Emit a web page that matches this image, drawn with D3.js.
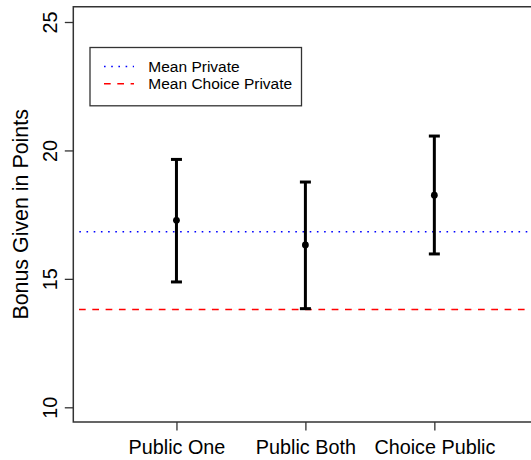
<!DOCTYPE html>
<html>
<head>
<meta charset="utf-8">
<script src="https://cdn.jsdelivr.net/npm/d3@7/dist/d3.min.js"></script>
<style>
html,body{margin:0;padding:0;background:#fff;}
svg{display:block;}
text{font-family:"Liberation Sans", Arial, Helvetica, sans-serif;}
</style>
</head>
<body>
<svg id="chart" width="531" height="460"></svg>
<script>
const categories = ["Public One", "Public Both", "Choice Public"];
const means = [17.28, 16.32, 18.26];
const lower = [14.88, 13.84, 15.97];
const upper = [19.65, 18.77, 20.56];
const yTicks = [10, 15, 20, 25];
const meanPrivate = 16.83;
const meanChoicePrivate = 13.81;
const legendLabels = ["Mean Private", "Mean Choice Private"];

(function(){
const svg = d3.select("#chart");
const pL = 73.3, pR = 537.5, pT = 6.7, pB = 422;

const x = d3.scaleLinear().domain([0.2, 3.8]).range([pL, pR]);
const y = d3.scaleLinear().domain([10, 25]).range([407.3, 22]);

const dotDash = "1.6,5.6", dashDash = "6.7,6.6";

// reference lines
svg.append("line")
  .attr("x1", pL).attr("x2", pR)
  .attr("y1", y(meanPrivate)).attr("y2", y(meanPrivate))
  .attr("stroke", "#0000ff").attr("stroke-width", 1.5)
  .attr("stroke-dasharray", dotDash).attr("stroke-dashoffset", 1.2);
svg.append("line")
  .attr("x1", pL).attr("x2", pR)
  .attr("y1", y(meanChoicePrivate)).attr("y2", y(meanChoicePrivate))
  .attr("stroke", "#ff0000").attr("stroke-width", 1.5)
  .attr("stroke-dasharray", dashDash).attr("stroke-dashoffset", 7.6);

// error bars
const g = svg.append("g");
categories.forEach((c, i) => {
  const cx = x(i + 1);
  g.append("line").attr("x1", cx).attr("x2", cx)
    .attr("y1", y(lower[i])).attr("y2", y(upper[i]))
    .attr("stroke", "#000").attr("stroke-width", 3);
  [lower[i], upper[i]].forEach(v => {
    g.append("line").attr("x1", cx - 5.5).attr("x2", cx + 5.5)
      .attr("y1", y(v)).attr("y2", y(v))
      .attr("stroke", "#000").attr("stroke-width", 3);
  });
  g.append("circle").attr("cx", cx).attr("cy", y(means[i])).attr("r", 3.4).attr("fill", "#000");
});

// box (right side runs past the image edge)
svg.append("path")
  .attr("d", `M${pR},${pT}H${pL}V${pB}H${pR}`)
  .attr("fill", "none").attr("stroke", "#333").attr("stroke-width", 1.5);

// y axis
const yAxis = d3.axisLeft(y).tickValues(yTicks).tickSize(8.5).tickPadding(6).tickFormat(d3.format("d"));
const ya = svg.append("g").attr("transform", `translate(${pL},0)`).call(yAxis);
ya.select(".domain").remove();
ya.selectAll(".tick line").attr("stroke", "#333").attr("stroke-width", 1.3);
ya.selectAll(".tick text")
  .attr("font-size", 19.8).attr("fill", "#000")
  .attr("transform", "rotate(-90)")
  .attr("x", 0).attr("y", -16.6).attr("dy", 0)
  .attr("text-anchor", "middle");

// x axis
const xAxis = d3.axisBottom(x).tickValues([1, 2, 3]).tickSize(8.5).tickPadding(10)
  .tickFormat(d => categories[d - 1]);
const xa = svg.append("g").attr("transform", `translate(0,${pB})`).call(xAxis);
xa.select(".domain").remove();
xa.selectAll(".tick line").attr("stroke", "#333").attr("stroke-width", 1.3);
xa.selectAll(".tick text").attr("font-size", 19.8).attr("fill", "#000")
  .attr("y", 32).attr("dy", 0);

// y label
svg.append("text")
  .attr("transform", `translate(28.3,${(pT + pB) / 2}) rotate(-90)`)
  .attr("text-anchor", "middle")
  .attr("font-size", 21.4)
  .text("Bonus Given in Points");

// legend
const lg = svg.append("g");
lg.append("rect").attr("x", 90).attr("y", 47.5).attr("width", 211.5).attr("height", 58.3)
  .attr("fill", "#fff").attr("stroke", "#333").attr("stroke-width", 1.3);
const lstyles = [
  {color: "#0000ff", dash: dotDash},
  {color: "#ff0000", dash: dashDash}
];
legendLabels.forEach((t, i) => {
  const ly = 66.5 + i * 17.3;
  lg.append("line").attr("x1", 104).attr("x2", 134).attr("y1", ly).attr("y2", ly)
    .attr("stroke", lstyles[i].color).attr("stroke-width", 1.5)
    .attr("stroke-dasharray", lstyles[i].dash);
  lg.append("text").attr("x", 148.3).attr("y", ly + 5.5).attr("font-size", 15.5).text(t);
});
})();
</script>
</body>
</html>
